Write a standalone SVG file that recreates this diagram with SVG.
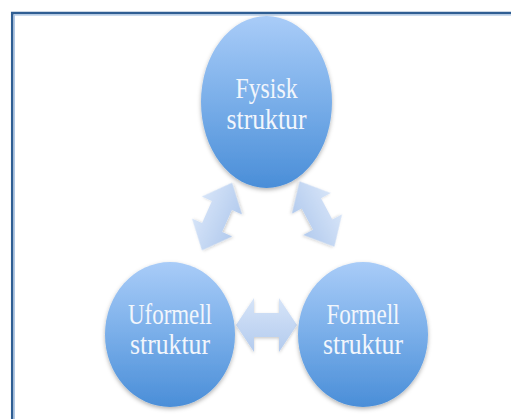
<svg xmlns="http://www.w3.org/2000/svg" width="511" height="419" viewBox="0 0 511 419">
  <defs>
    <linearGradient id="gCircle" x1="0" y1="0" x2="0" y2="1">
      <stop offset="0" stop-color="#a9ccf8"/>
      <stop offset="0.5" stop-color="#79aee9"/>
      <stop offset="1" stop-color="#4a8ed8"/>
    </linearGradient>
    <linearGradient id="gArrow" x1="0" y1="0" x2="0" y2="1">
      <stop offset="0" stop-color="#d6e4f8"/>
      <stop offset="1" stop-color="#b3cbee"/>
    </linearGradient>
    <filter id="shadow" x="-20%" y="-20%" width="140%" height="140%">
      <feDropShadow dx="0" dy="2" stdDeviation="2" flood-color="#000" flood-opacity="0.3"/>
    </filter>
    <filter id="ashadow" x="-30%" y="-30%" width="160%" height="160%">
      <feDropShadow dx="0" dy="1.5" stdDeviation="1.5" flood-color="#000" flood-opacity="0.2"/>
    </filter>
    <path id="dblArrowH" d="M-30.5,0 L-12.5,-27 L-12.5,-12 L12.5,-12 L12.5,-27 L30.5,0 L12.5,27 L12.5,12 L-12.5,12 L-12.5,27 Z"/>
    <path id="dblArrowD" d="M-37,0 L-12,-22 L-12,-11 L12,-11 L12,-22 L37,0 L12,22 L12,11 L-12,11 L-12,22 Z"/>
  </defs>
  <style>
    .node { fill: url(#gCircle); filter: url(#shadow); }
    .label { font-family: "Liberation Serif", "Times New Roman", serif; font-size: 29px; fill: #f2f6fc; text-anchor: middle; }
    .arrow { fill: url(#gArrow); filter: url(#ashadow); }
    .frame-dark { fill: none; stroke: #2f5e93; stroke-width: 2.5; }
    .frame-light { fill: none; stroke: #a9c3e3; stroke-width: 1.2; }
  </style>
  <rect x="0" y="0" width="511" height="419" fill="#ffffff"/>
  <g id="frame">
    <rect class="frame-dark" x="12.2" y="13" width="520" height="430"/>
    <rect class="frame-light" x="14.3" y="15" width="520" height="430"/>
  </g>
  <g id="connectors">
    <use href="#dblArrowD" class="arrow" transform="translate(217,216.5) rotate(-66)"/>
    <use href="#dblArrowD" class="arrow" transform="translate(317,214) rotate(62)"/>
    <use href="#dblArrowH" class="arrow" transform="translate(266.5,325)"/>
  </g>
  <g id="node-fysisk">
    <ellipse class="node" cx="266.5" cy="102" rx="65.5" ry="86"/>
    <text class="label" x="266.5" y="98" textLength="62" lengthAdjust="spacingAndGlyphs">Fysisk</text>
    <text class="label" x="266.5" y="129" textLength="80" lengthAdjust="spacingAndGlyphs">struktur</text>
  </g>
  <g id="node-uformell">
    <ellipse class="node" cx="170" cy="334.5" rx="65" ry="72.5"/>
    <text class="label" x="170" y="324" textLength="84" lengthAdjust="spacingAndGlyphs">Uformell</text>
    <text class="label" x="170" y="354" textLength="80" lengthAdjust="spacingAndGlyphs">struktur</text>
  </g>
  <g id="node-formell">
    <ellipse class="node" cx="363" cy="334.5" rx="65" ry="72.5"/>
    <text class="label" x="363" y="324" textLength="73" lengthAdjust="spacingAndGlyphs">Formell</text>
    <text class="label" x="363" y="354" textLength="80" lengthAdjust="spacingAndGlyphs">struktur</text>
  </g>
</svg>
